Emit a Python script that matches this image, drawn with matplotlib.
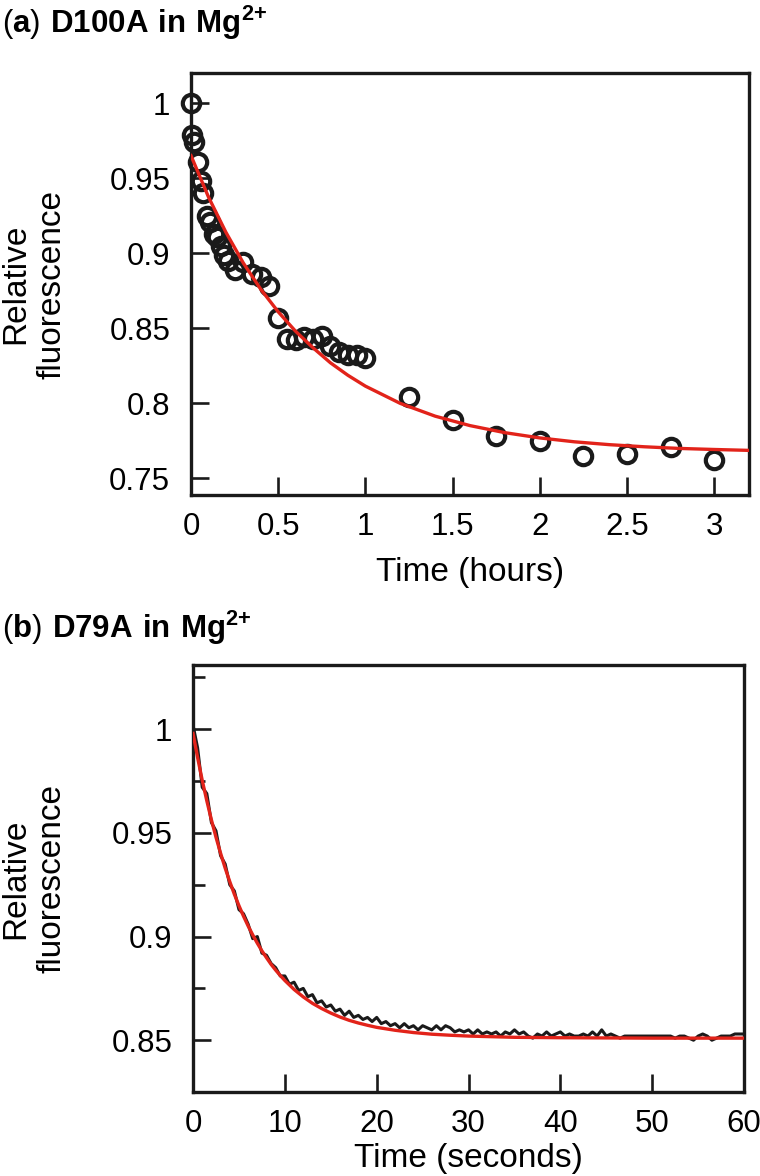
import numpy as np
import matplotlib
matplotlib.use("Agg")
import matplotlib.pyplot as plt
from matplotlib.ticker import MultipleLocator, FuncFormatter

plt.rcParams["font.family"] = ["Liberation Sans", "DejaVu Sans"]
plt.rcParams["mathtext.fontset"] = "custom"
plt.rcParams["mathtext.rm"] = "Liberation Sans"
plt.rcParams["mathtext.bf"] = "Liberation Sans:bold"

RED = "#e2231a"

# Panel (a): D100A in Mg2+, time in hours
timeHours = [0, 0.008, 0.02, 0.04, 0.06, 0.07, 0.09, 0.11, 0.13, 0.15, 0.17,
             0.19, 0.21, 0.25, 0.3, 0.35, 0.4, 0.45, 0.5, 0.55, 0.6, 0.65,
             0.7, 0.75, 0.8, 0.85, 0.9, 0.95, 1.0, 1.25, 1.5, 1.75, 2.0,
             2.25, 2.5, 2.75, 3.0]
fluorA = [1.0, 0.979, 0.974, 0.961, 0.948, 0.940, 0.925, 0.921, 0.913, 0.911,
          0.905, 0.899, 0.895, 0.889, 0.894, 0.886, 0.884, 0.878, 0.857,
          0.843, 0.842, 0.844, 0.843, 0.845, 0.838, 0.834, 0.832, 0.832,
          0.830, 0.804, 0.789, 0.778, 0.775, 0.765, 0.766, 0.771, 0.762]

# fitted curve
fitTimeA = [0, 0.1, 0.2, 0.3, 0.4, 0.5, 0.6, 0.7, 0.8, 0.9, 1.0, 1.2, 1.4,
            1.6, 1.8, 2.0, 2.2, 2.4, 2.6, 2.8, 3.0, 3.2]
fitA = [0.965, 0.9375, 0.914, 0.8935, 0.876, 0.861, 0.848, 0.837, 0.827,
        0.8187, 0.8115, 0.800, 0.7915, 0.7852, 0.7805, 0.777, 0.7744, 0.7725,
        0.7711, 0.770, 0.7693, 0.7687]

# Panel (b): D79A in Mg2+, time in seconds (trace every 0.5 s)
traceB = [1.002, 0.991, 0.972, 0.969, 0.955, 0.951, 0.939, 0.935, 0.925, 0.922,
          0.913, 0.911, 0.906, 0.899, 0.900, 0.892, 0.891, 0.887, 0.885, 0.881,
          0.881, 0.877, 0.878, 0.874, 0.875, 0.871, 0.872, 0.868, 0.869, 0.866,
          0.867, 0.864, 0.865, 0.862, 0.864, 0.861, 0.862, 0.860, 0.861, 0.859,
          0.861, 0.858, 0.859, 0.857, 0.858, 0.856, 0.858, 0.856, 0.857, 0.855,
          0.857, 0.856, 0.855, 0.857, 0.855, 0.857, 0.856, 0.854, 0.855, 0.854,
          0.855, 0.853, 0.855, 0.853, 0.854, 0.853, 0.854, 0.852, 0.854, 0.853,
          0.855, 0.853, 0.854, 0.852, 0.851, 0.853, 0.852, 0.854, 0.852, 0.853,
          0.854, 0.852, 0.853, 0.852, 0.852, 0.853, 0.852, 0.854, 0.852, 0.855,
          0.852, 0.853, 0.852, 0.851, 0.852, 0.852, 0.852, 0.852, 0.852, 0.852,
          0.852, 0.852, 0.852, 0.852, 0.852, 0.851, 0.852, 0.852, 0.851, 0.850,
          0.852, 0.853, 0.852, 0.850, 0.851, 0.852, 0.852, 0.852, 0.853, 0.853,
          0.853]
traceTimeB = np.arange(len(traceB)) * 0.5

fitTimeB = [0, 0.5, 1, 1.5, 2, 2.5, 3, 3.5, 4, 4.5, 5, 5.5, 6, 6.5, 7, 7.5, 8,
            8.5, 9, 9.5, 10, 11, 12, 13, 14, 15, 16, 17, 18, 19, 20, 22, 24,
            26, 28, 30, 35, 40, 50, 60]
fitB = [0.998, 0.9863, 0.9754, 0.9655, 0.9563, 0.9479, 0.9402, 0.933, 0.9265,
        0.9204, 0.9149, 0.9098, 0.9051, 0.9008, 0.8968, 0.8931, 0.8898, 0.8866,
        0.8838, 0.8812, 0.8788, 0.8745, 0.8709, 0.8678, 0.8653, 0.8631, 0.8612,
        0.8596, 0.8583, 0.8572, 0.8562, 0.8548, 0.8537, 0.8529, 0.8524, 0.852,
        0.8514, 0.8512, 0.851, 0.851]

fig = plt.figure(figsize=(7.6, 11.76), dpi=100)
axA = fig.add_axes([0.2513, 0.5791, 0.7342, 0.3588])
axB = fig.add_axes([0.2540, 0.0714, 0.7250, 0.3631])

fmt = FuncFormatter(lambda v, pos: f"{v:g}")


def style_axes(ax):
    for side in ax.spines.values():
        side.set_linewidth(2.4)
        side.set_color("#1a1a1a")
    ax.tick_params(which="major", direction="in", length=13, width=1.9,
                   labelsize=22.5, pad=15, color="#1a1a1a")
    ax.tick_params(which="minor", direction="in", length=8.5, width=1.9,
                   color="#1a1a1a")
    ax.tick_params(axis="x", pad=12)
    ax.xaxis.set_major_formatter(fmt)
    ax.yaxis.set_major_formatter(fmt)


# (a) circles + fit
axA.plot(timeHours, fluorA, linestyle="none", marker="o", markersize=12.5,
         markerfacecolor="none", markeredgecolor="#1a1a1a", markeredgewidth=3,
         clip_on=False, zorder=3)
axA.plot(fitTimeA, fitA, color=RED, linewidth=2.4, zorder=4)
axA.set_xlim(0, 3.2)
axA.set_ylim(0.739, 1.02)
axA.xaxis.set_major_locator(MultipleLocator(0.5))
axA.yaxis.set_major_locator(MultipleLocator(0.05))
style_axes(axA)
axA.set_xlabel("Time (hours)", fontsize=24, labelpad=11)
axA.set_ylabel("Relative\nfluorescence", fontsize=24)
axA.yaxis.set_label_coords(-0.222, 0.5)

# (b) trace + fit
axB.plot(traceTimeB, traceB, color="#1a1a1a", linewidth=2.2, zorder=3)
axB.plot(fitTimeB, fitB, color=RED, linewidth=2.4, zorder=4)
axB.set_xlim(0, 60)
axB.set_ylim(0.825, 1.031)
axB.xaxis.set_major_locator(MultipleLocator(10))
axB.yaxis.set_major_locator(MultipleLocator(0.05))
axB.yaxis.set_minor_locator(MultipleLocator(0.025))
style_axes(axB)
axB.set_xlabel("Time (seconds)", fontsize=24, labelpad=3)
axB.set_ylabel("Relative\nfluorescence", fontsize=24)
axB.yaxis.set_label_coords(-0.228, 0.5)

# panel titles
fig.text(0.003, 1 - 33 / 1176,
         r"$(\mathbf{a})\ \mathbf{D100A\ in\ Mg}^{\mathbf{2{+}}}$",
         fontsize=22.5, va="baseline", ha="left")
fig.text(0.003, 1 - 638 / 1176,
         r"$(\mathbf{b})\ \mathbf{D79A\ in\ Mg}^{\mathbf{2{+}}}$",
         fontsize=22.5, va="baseline", ha="left")

fig.savefig("out.png", dpi=100)
